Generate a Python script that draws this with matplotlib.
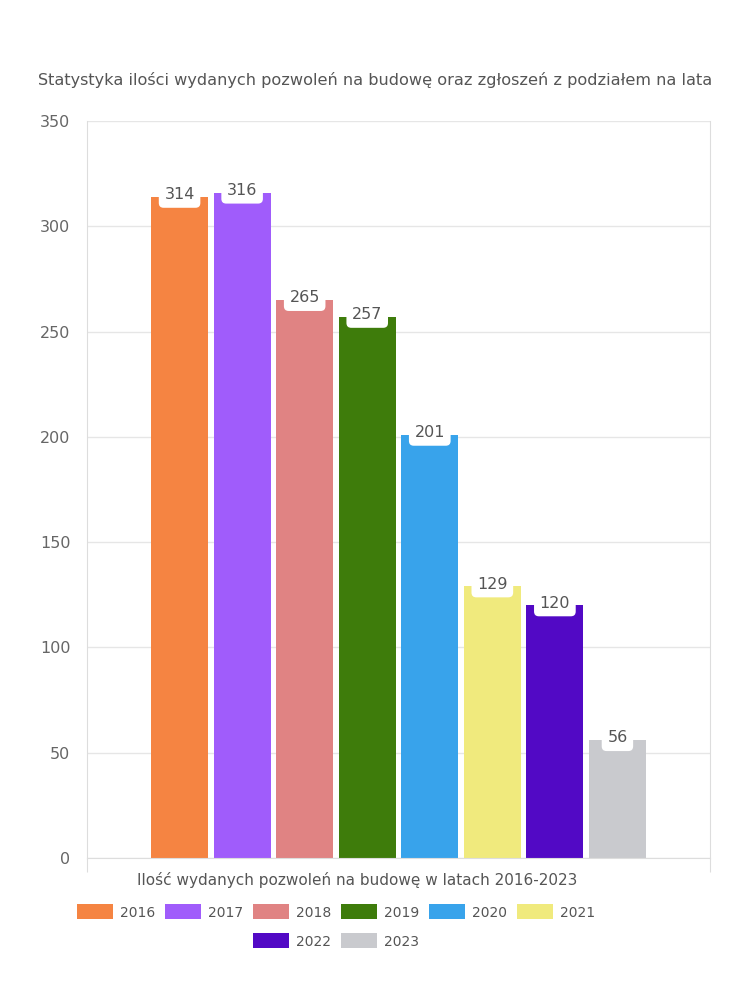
import matplotlib
matplotlib.use("Agg")
import matplotlib.pyplot as plt
from matplotlib.patches import Patch

plt.rcParams['font.family'] = ['DejaVu Sans']

years = ["2016", "2017", "2018", "2019", "2020", "2021", "2022", "2023"]
values = [314, 316, 265, 257, 201, 129, 120, 56]
colors = ["#F58442", "#A05CFB", "#E08383", "#3E7C0B", "#38A3EB", "#F0EA7D", "#5209C5", "#C9CACE"]
yticks = [0, 50, 100, 150, 200, 250, 300, 350]
title = "Statystyka ilości wydanych pozwoleń na budowę oraz zgłoszeń z podziałem na lata"
xlabel = "Ilość wydanych pozwoleń na budowę w latach 2016-2023"

fig = plt.figure(figsize=(7.5, 10), dpi=100)
ax = fig.add_axes([87/750, 1-858/1000, 623/750, 737/1000])

x = list(range(len(years)))
ax.bar(x, values, width=0.913, color=colors, zorder=2)

for xi, v in zip(x, values):
    ax.text(xi, v + 1, str(v), ha='center', va='center', fontsize=11.5, color='#555555', zorder=4,
            bbox=dict(boxstyle='round,pad=0.35,rounding_size=0.3', fc='white', ec='none'))

ax.set_xlim(-1.48, 8.48)
ax.set_ylim(0, 350)
ax.set_yticks(yticks)
ax.set_yticklabels([str(t) for t in yticks], fontsize=11.5, color='#666666')
ax.tick_params(axis='y', length=0, pad=12)
ax.set_xticks([-1.48, 8.48])
ax.set_xticklabels(['', ''])
ax.tick_params(axis='x', length=10, color='#dddddd')
ax.grid(axis='y', color='#e6e6e6', linewidth=1, zorder=0)
for s in ['left', 'right', 'bottom']:
    ax.spines[s].set_color('#dddddd')
ax.spines['top'].set_visible(False)

fig.text(375/750, 1-80/1000, title, ha='center', va='center', fontsize=11.6, color='#555555')
fig.text(357/750, 1-880/1000, xlabel, ha='center', va='center', fontsize=11, color='#555555')

handles = [Patch(facecolor=c, edgecolor='none') for c in colors]
kw = dict(loc='center', frameon=False, fontsize=10, handlelength=2.6, handleheight=1.25,
          handletextpad=0.5, columnspacing=0.7, labelcolor='#555555')
leg1 = fig.legend(handles[:6], years[:6], bbox_to_anchor=(336/750, 1-912/1000), ncol=6, **kw)
leg2 = fig.legend(handles[6:], years[6:], bbox_to_anchor=(336/750, 1-941/1000), ncol=2, **kw)

fig.savefig("out.png", dpi=100)
